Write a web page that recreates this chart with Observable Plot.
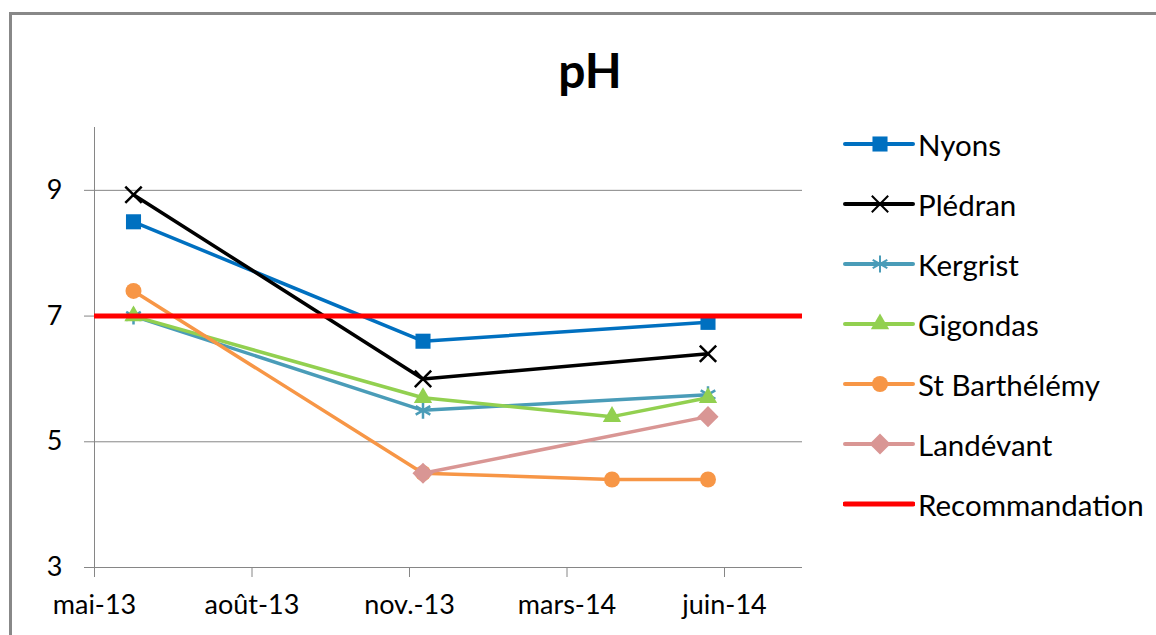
<!DOCTYPE html>
<html><head><meta charset="utf-8">
<script src="https://cdn.jsdelivr.net/npm/d3@7"></script>
<script src="https://cdn.jsdelivr.net/npm/@observablehq/plot@0.6"></script>
<style>
body{margin:0;background:#fff;}
#wrap{position:relative;width:1156px;height:635px;overflow:hidden;font-family:Lato,"Open Sans",sans-serif;background:#fff;}
#frame{position:absolute;left:9px;top:12px;width:1300px;height:800px;border:3px solid #888;box-sizing:border-box;pointer-events:none;}
#chart{position:absolute;left:0;top:0;}
#title{position:absolute;left:0;width:1180px;top:41px;text-align:center;font-weight:bold;font-size:48px;line-height:58px;color:#000;}
#legend{position:absolute;left:843px;top:114px;}
.row{display:flex;align-items:center;height:60px;}
.row span{font-size:29.5px;color:#000;margin-left:3px;white-space:nowrap;}
</style>
</head><body>
<div id="wrap">
  <div id="chart"></div>
  <div id="title">pH</div>
  <div id="legend"></div>
  <div id="frame"></div>
</div>
<script>
// ---- data ----
const axisStart = "2013-05-01";
const axisEnd = "2014-08-16";
const tickDates = ["2013-05-01","2013-08-14","2013-11-27","2014-03-12","2014-06-25"];
const tickLabels = ["mai-13","août-13","nov.-13","mars-14","juin-14"];
const yTicks = [3,5,7,9];
const sampleDates = ["2013-05-27","2013-12-06","2014-04-11","2014-06-14"];
const seriesNames = ["Nyons","Plédran","Kergrist","Gigondas","St Barthélémy","Landévant"];
const nyons        = [8.5, 6.6, null, 6.9];
const pledran      = [8.93, 6.0, null, 6.4];
const kergrist     = [7.0, 5.5, null, 5.75];
const gigondas     = [7.0, 5.7, 5.4, 5.7];
const stBarthelemy = [7.4, 4.5, 4.4, 4.4];
const landevant    = [null, 4.5, null, 5.4];
const recommandationLabel = "Recommandation";
const recommandation = 7;

// ---- styles ----
const colors = ["#0070C0","#000000","#4A9CB8","#92D050","#F79646","#D99694"];
const symbols = ["square","times","asterisk","triangle","circle","diamond2"];
const radii = [8.5, 7.5, 8, 6.8, 8, 9.5];
const filled = [true,false,false,true,true,true];
const recoColor = "#FF0000";

const allValues = [nyons,pledran,kergrist,gigondas,stBarthelemy,landevant];
const parse = s => new Date(s + "T00:00:00Z");
const tickDateObjs = tickDates.map(parse);

const marks = [
  Plot.gridY([5,7,9], {stroke:"#868686", strokeOpacity:1, strokeWidth:1}),
  Plot.ruleX([parse(axisStart)], {y1:3, y2:10, stroke:"#868686", strokeWidth:1}),
  Plot.ruleY([3], {stroke:"#868686", strokeWidth:1}),
  Plot.axisY(yTicks, {label:null, tickSize:10, tickPadding:22, stroke:"#868686", strokeOpacity:1, fill:"#000", fontSize:27,
    tickFormat: d => String(d)}),
  Plot.axisX(tickDateObjs, {label:null, tickSize:10, tickPadding:17, stroke:"#868686", strokeOpacity:1, fill:"#000", fontSize:27,
    tickFormat: (d) => tickLabels[tickDateObjs.findIndex(t => +t === +d)]})
];

seriesNames.forEach((name, i) => {
  const rows = sampleDates.map((d, j) => ({series:name, date:parse(d), value:allValues[i][j]}))
    .filter(r => r.value != null);
  marks.push(Plot.line(rows, {x:"date", y:"value", stroke:colors[i], strokeWidth:3.5}));
  marks.push(Plot.dot(rows, filled[i]
    ? {x:"date", y:"value", symbol:()=>symbols[i], r:radii[i], fill:colors[i], stroke:"none"}
    : {x:"date", y:"value", symbol:()=>symbols[i], r:radii[i], fill:"none", stroke:colors[i], strokeWidth:2.5}));
});
marks.push(Plot.ruleY([recommandation], {stroke:recoColor, strokeWidth:5}));

const chart = Plot.plot({
  width:1156, height:635,
  marginLeft:94, marginRight:354, marginTop:127, marginBottom:68,
  style:{fontFamily:'Lato,"Open Sans",sans-serif', background:"transparent", overflow:"visible"},
  x:{type:"utc", domain:[parse(axisStart), parse(axisEnd)], axis:null, label:null},
  y:{domain:[3,10], axis:null, label:null},
  symbol:{type:"identity"},
  marks
});
document.getElementById("chart").appendChild(chart);

// ---- legend ----
const legend = d3.select("#legend");
const legendItems = seriesNames.map((n,i)=>({name:n, color:colors[i], symbol:symbols[i], r:radii[i], filled:filled[i]}))
  .concat([{name:recommandationLabel, color:recoColor, symbol:null, width:5}]);
const symMap = {square:d3.symbolSquare, times:d3.symbolTimes, asterisk:d3.symbolAsterisk, triangle:d3.symbolTriangle, circle:d3.symbolCircle, diamond2:d3.symbolDiamond2};
legendItems.forEach(it => {
  const row = legend.append("div").attr("class","row");
  const svg = row.append("svg").attr("width",72).attr("height",30);
  svg.append("line").attr("x1",2).attr("x2",70).attr("y1",15).attr("y2",15)
    .attr("stroke",it.color).attr("stroke-width",it.width||4).attr("stroke-linecap","round");
  if (it.symbol) {
    const p = d3.symbol(symMap[it.symbol], Math.PI*it.r*it.r)();
    const s = svg.append("path").attr("d",p).attr("transform","translate(37,15)");
    if (it.filled) s.attr("fill",it.color); else s.attr("fill","none").attr("stroke",it.color).attr("stroke-width",2);
  }
  row.append("span").text(it.name);
});
</script>
</body></html>
